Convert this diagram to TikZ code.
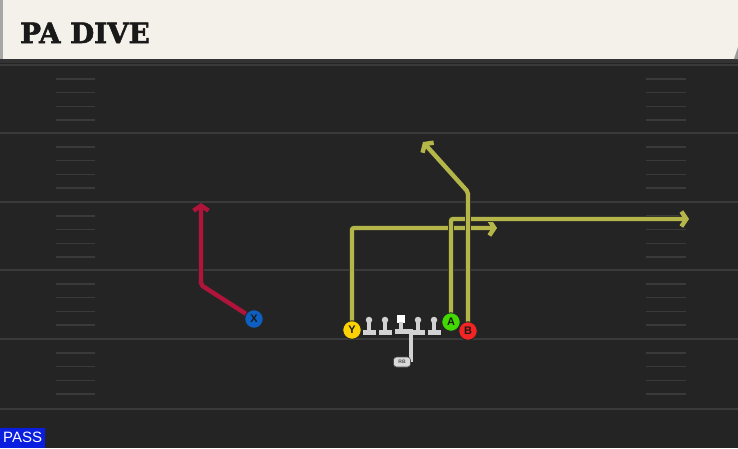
\documentclass[tikz,border=0pt]{standalone}
\usepackage{fontspec}
\setmainfont{Liberation Sans}
\newfontfamily\titlefont[FakeStretch=0.99, BoldFeatures={FakeBold=2}]{DejaVu Serif}
\usetikzlibrary{arrows.meta, backgrounds, positioning}
\definecolor{field_bg}{HTML}{242424}
\definecolor{field_line}{HTML}{3A3A3A}
\definecolor{header_bg}{HTML}{F4F1EA}
\definecolor{route_yellow}{HTML}{B4B649}
\definecolor{route_red}{HTML}{B0143A}
\definecolor{line_gray}{HTML}{D2D2D2}
\definecolor{pass_blue}{HTML}{0A1EE0}
\tikzset{
  player/.style = {circle, draw=black!85, line width=0.9pt, minimum size=18.5pt, inner sep=0pt,
                   font=\fontsize{11}{11}\selectfont\bfseries, text=black!90},
  lineman_head/.style = {circle, fill=line_gray, minimum size=6.5pt, inner sep=0pt},
  center_head/.style = {rectangle, fill=white, minimum size=8.5pt, inner sep=0pt},
  back/.style = {rectangle, rounded corners=3pt, fill=line_gray!85, draw=black!70, line width=0.6pt,
                 minimum width=17pt, minimum height=10pt, inner sep=0pt,
                 font=\fontsize{5}{5}\selectfont\bfseries, text=black!70},
  route/.style = {line width=4.4pt, rounded corners=2pt, -{Straight Barb[length=5pt, width=15pt]},
                  preaction={draw=black!85, line width=5.8pt}},
  yard/.style = {field_line, line width=2pt},
  hash/.style = {field_line, line width=1.6pt}
}
\begin{document}
\begin{tikzpicture}[x=1pt, y=-1pt]
    \useasboundingbox (0,0) rectangle (738,448);

    % Field
    \begin{scope}[on background layer]
        \fill[field_bg] (0,59) rectangle (738,448);
        \fill[black!80] (0,59) rectangle (738,63);
        \draw[yard] (0,65) -- (738,65);
        \foreach \y in {133, 202, 270, 339, 409} {
            \draw[yard] (0,\y) -- (738,\y);
        }
        \foreach \y in {65, 133, 202, 270, 339} {
            \foreach \k in {1,...,4} {
                \draw[hash] (56,\y+\k*13.8) -- (95,\y+\k*13.8);
                \draw[hash] (646,\y+\k*13.8) -- (686,\y+\k*13.8);
            }
        }
    \end{scope}

    % Header
    \fill[header_bg] (0,0) rectangle (738,59);
    \fill[gray!70] (0,0) rectangle (3,59);
    \fill[gray!80] (734,59) -- (738,47) -- (738,59) -- cycle;
    \node[anchor=base west, inner sep=0pt, font=\titlefont\fontsize{28}{28}\selectfont\bfseries, text=black!90]
        (title) at (20,43) {PA DIVE};

    % Offensive line
    \foreach \n/\x in {lt/369, lg/385, rg/418, rt/434} {
        \node[lineman_head] (\n) at (\x,320) {};
        \fill[line_gray] (\x-1.6,320) rectangle (\x+1.6,331);
        \fill[line_gray] (\x-6.5,330) rectangle (\x+6.5,335);
    }
    \node[center_head] (c) at (401,319) {};
    \fill[line_gray] (399.4,322) rectangle (402.6,331);
    \fill[line_gray] (395,329) rectangle (413,334);

    % Players
    \node[player, fill=blue!55!cyan!75!black!95] (x) at (254,319) {X};
    \node[player, fill=yellow!70!orange] (y) at (352,330) {Y};
    \node[player, fill=green!60!lime!85!black] (a) at (451,322) {A};
    \node[player, fill=red!80!pink!95!black] (b) at (468,331) {B};
    \node[back] (rb) at (402,362) {RB};

    % Route ends
    \coordinate (x_break) at (201,285);
    \coordinate (x_end) at (201,203);
    \coordinate (y_break) at (352,228);
    \coordinate (y_end) at (497,228);
    \coordinate (a_break) at (451,219);
    \coordinate (a_end) at (689,219);
    \coordinate (b_break) at (468,192);
    \coordinate (b_end) at (423,142);
    \coordinate (rb_break) at (411,331);

    % Routes
    \begin{scope}[on background layer]
        \draw[route, route_red] (x.center) -- (x_break) -- (x_end);
        \draw[route, route_yellow] (y.center) -- (y_break) -- (y_end);
        \draw[route, route_yellow] (a.center) -- (a_break) -- (a_end);
        \draw[route, route_yellow] (b.center) -- (b_break) -- (b_end);
        \draw[line_gray, line width=3.5pt] (rb.center -| rb_break) -- (rb_break);
    \end{scope}

    % Play type
    \node[anchor=south west, fill=pass_blue, text=white, inner xsep=2pt, inner ysep=2pt,
          minimum width=45pt, minimum height=20pt, font=\fontsize{15}{15}\selectfont]
        (kind) at (0,448) {PASS};
\end{tikzpicture}
\end{document}
